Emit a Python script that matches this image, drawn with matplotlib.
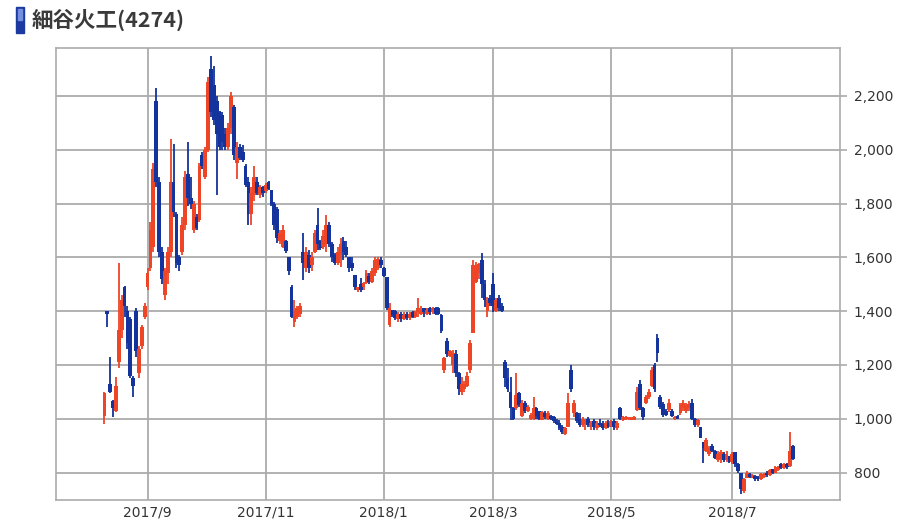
import numpy as np
import pandas as pd
import matplotlib
matplotlib.use('Agg')
import matplotlib.pyplot as plt
from matplotlib.patches import Rectangle
from matplotlib.ticker import FuncFormatter

plt.rcParams['font.family'] = ['Noto Sans CJK JP', 'DejaVu Sans']

# 取引日 (東証休場日を除く)
holidays = ['2017-08-11', '2017-09-18', '2017-10-09', '2017-11-03', '2017-11-23',
            '2018-01-01', '2018-01-02', '2018-01-03', '2018-01-08', '2018-02-12',
            '2018-03-21', '2018-04-30', '2018-05-03', '2018-05-04', '2018-07-16']

# 四本値 (月ごとに1行)
opens = [
    1010, 1400, 1130, 1065, 1030, 1210, 1330, 1490, 1400, 1370, 1150, 1400, 1170, 1270, 1380,
    1490, 1560, 1640, 2180, 1880, 1620, 1460, 1540, 1620, 1880, 1760, 1600, 1620, 1720, 1910, 1820, 1700, 1750, 1740, 1980,
    1900, 2000, 2300, 2240, 2180, 2140, 2130, 2060, 2010, 2080, 2160, 1950, 2010, 1990, 1940, 1880, 1760, 1830, 1880, 1830, 1862,
    1845, 1880, 1850, 1800, 1780, 1660, 1640, 1660, 1600, 1490, 1360, 1380, 1390, 1620, 1560, 1610, 1570, 1620, 1720, 1660,
    1640, 1650, 1720, 1650, 1610, 1580, 1610, 1660, 1640, 1600, 1580, 1534, 1478, 1500, 1490, 1505, 1530, 1510, 1540, 1560, 1590,
    1560, 1527, 1350, 1404, 1400, 1370, 1390, 1370, 1390, 1375, 1395, 1380, 1395, 1390, 1410, 1390, 1410, 1395, 1410,
    1410, 1385, 1180, 1290, 1235, 1200, 1240, 1170, 1100, 1110, 1120, 1180, 1320, 1510, 1540, 1590, 1500, 1400, 1450,
    1500, 1400, 1450, 1420, 1210, 1150, 1100, 1040, 1040, 1094, 1010, 1060, 1030, 1000, 1000, 1040, 1030, 995, 1020, 1000, 1010,
    1005, 990, 985, 970, 945, 970, 1180, 1020, 1020, 1000, 975, 980, 1000, 970, 990, 965, 985, 980, 965, 985,
    970, 990, 965, 1040, 995, 1000, 998, 996, 995, 1031, 1130, 1040, 1060, 1080, 1120, 1200, 1300, 1080, 1055, 1030, 1031,
    1030, 1000, 1010, 1020, 1040, 1030, 1040, 1060, 1000, 975, 968, 912, 880, 870, 900, 880, 845, 850, 870, 845, 860,
    840, 875, 830, 800, 730, 780, 795, 780, 789, 785, 775, 785, 800, 790, 812, 800, 810, 830, 818, 832, 825,
    900,
]
highs = [
    1100, 1400, 1230, 1070, 1155, 1580, 1460, 1495, 1420, 1380, 1160, 1410, 1270, 1350, 1430,
    1560, 1730, 1950, 2230, 1900, 1640, 1560, 1640, 2040, 2020, 1770, 1610, 1750, 1920, 2030, 1900, 1810, 1760, 1950, 1990,
    2010, 2270, 2350, 2310, 2200, 2145, 2140, 2080, 2100, 2215, 2165, 2030, 2020, 2019, 1945, 1900, 1860, 1940, 1900, 1870, 1865,
    1875, 1882, 1852, 1805, 1788, 1700, 1720, 1665, 1601, 1497, 1441, 1420, 1430, 1691, 1638, 1627, 1620, 1702, 1784, 1665,
    1700, 1758, 1730, 1657, 1616, 1640, 1672, 1676, 1660, 1601, 1600, 1534, 1490, 1523, 1510, 1553, 1540, 1560, 1601, 1601, 1600,
    1564, 1527, 1430, 1404, 1404, 1396, 1396, 1396, 1396, 1396, 1400, 1400, 1449, 1420, 1411, 1411, 1415, 1415, 1415,
    1415, 1390, 1229, 1300, 1255, 1255, 1255, 1173, 1154, 1140, 1173, 1292, 1590, 1583, 1580, 1616, 1516, 1453, 1460,
    1542, 1450, 1460, 1430, 1217, 1190, 1154, 1042, 1169, 1100, 1068, 1065, 1050, 1020, 1080, 1045, 1030, 1030, 1030, 1030, 1015,
    1010, 1000, 994, 975, 968, 1094, 1199, 1068, 1025, 1020, 1005, 1000, 1005, 990, 1000, 990, 1000, 990, 990, 995,
    995, 1000, 990, 1042, 1010, 1010, 1008, 1006, 1010, 1117, 1143, 1045, 1090, 1110, 1191, 1206, 1314, 1087, 1061, 1038, 1075,
    1038, 1012, 1015, 1060, 1068, 1060, 1065, 1075, 1001, 1000, 968, 915, 927, 900, 905, 882, 880, 882, 875, 880, 862,
    875, 878, 834, 800, 781, 807, 800, 795, 790, 789, 800, 800, 805, 815, 815, 826, 826, 834, 834, 834, 949,
    901,
]
lows = [
    980, 1340, 1095, 1005, 1025, 1190, 1300, 1380, 1260, 1150, 1080, 1230, 1150, 1260, 1370,
    1480, 1550, 1620, 1860, 1600, 1500, 1440, 1500, 1600, 1750, 1560, 1550, 1610, 1700, 1790, 1780, 1690, 1700, 1730, 1930,
    1890, 1990, 2120, 2090, 1830, 2000, 2000, 2000, 2000, 2060, 1960, 1890, 1960, 1955, 1860, 1720, 1720, 1810, 1830, 1820, 1825,
    1840, 1850, 1790, 1700, 1654, 1650, 1635, 1616, 1534, 1374, 1340, 1370, 1380, 1516, 1545, 1542, 1550, 1616, 1627, 1627,
    1630, 1620, 1640, 1583, 1571, 1570, 1564, 1590, 1600, 1545, 1550, 1478, 1471, 1471, 1480, 1500, 1500, 1504, 1530, 1553, 1560,
    1527, 1404, 1340, 1380, 1366, 1359, 1360, 1366, 1366, 1366, 1375, 1375, 1378, 1385, 1380, 1385, 1385, 1390, 1385,
    1385, 1318, 1169, 1229, 1230, 1169, 1154, 1087, 1087, 1100, 1117, 1169, 1318, 1504, 1520, 1449, 1415, 1378, 1420,
    1396, 1396, 1400, 1395, 1117, 1100, 994, 994, 1031, 1042, 1005, 1020, 1025, 994, 994, 1000, 994, 994, 1000, 995, 994,
    985, 975, 960, 945, 938, 968, 1098, 1005, 985, 968, 970, 957, 970, 960, 960, 960, 970, 960, 962, 965,
    968, 960, 960, 994, 990, 994, 994, 994, 994, 1030, 1031, 994, 1055, 1075, 1117, 1098, 1210, 1038, 1005, 1010, 1025,
    1005, 995, 998, 1015, 1030, 1020, 1030, 994, 968, 970, 927, 834, 875, 860, 875, 850, 840, 837, 840, 840, 837,
    830, 819, 800, 722, 725, 778, 780, 778, 770, 770, 772, 780, 785, 788, 795, 798, 805, 815, 815, 815, 819,
    845,
]
closes = [
    1095, 1390, 1100, 1040, 1120, 1330, 1440, 1420, 1280, 1160, 1120, 1250, 1260, 1340, 1420,
    1540, 1700, 1930, 1880, 1620, 1520, 1550, 1620, 1880, 1770, 1580, 1570, 1720, 1900, 1820, 1800, 1800, 1710, 1940, 1940,
    2000, 2250, 2140, 2110, 2060, 2010, 2030, 2010, 2080, 2200, 1980, 2010, 1970, 1960, 1870, 1760, 1840, 1900, 1840, 1860, 1840,
    1870, 1855, 1800, 1720, 1670, 1690, 1700, 1625, 1550, 1380, 1400, 1410, 1420, 1580, 1620, 1560, 1600, 1690, 1650, 1635,
    1680, 1720, 1650, 1600, 1580, 1620, 1650, 1620, 1610, 1560, 1560, 1490, 1488, 1480, 1505, 1540, 1510, 1550, 1590, 1595, 1570,
    1530, 1410, 1410, 1385, 1375, 1390, 1370, 1385, 1375, 1390, 1380, 1395, 1410, 1405, 1395, 1405, 1395, 1410, 1390,
    1390, 1325, 1225, 1240, 1250, 1245, 1170, 1110, 1130, 1130, 1160, 1280, 1570, 1570, 1575, 1500, 1440, 1440, 1430,
    1420, 1440, 1410, 1400, 1150, 1110, 1040, 1000, 1090, 1050, 1060, 1030, 1045, 1015, 1040, 1010, 1000, 1025, 1005, 1020, 1000,
    990, 980, 965, 950, 965, 1060, 1110, 1060, 990, 975, 1000, 995, 975, 985, 970, 985, 975, 965, 985, 970,
    990, 970, 985, 1000, 1005, 1005, 1004, 1003, 1005, 1100, 1040, 1005, 1080, 1100, 1180, 1110, 1243, 1045, 1015, 1015, 1060,
    1010, 1008, 1000, 1050, 1060, 1050, 1055, 1000, 975, 995, 930, 890, 920, 890, 880, 855, 870, 875, 845, 870, 840,
    870, 830, 805, 740, 775, 800, 785, 790, 775, 775, 795, 795, 790, 810, 800, 820, 822, 818, 830, 820, 880,
    850,
]

y_ticks = [800, 1000, 1200, 1400, 1600, 1800, 2000, 2200]
label_months = [(2017, 9), (2017, 11), (2018, 1), (2018, 3), (2018, 5), (2018, 7)]

dates = pd.bdate_range('2017-08-10', '2018-08-01')
dates = dates[~dates.isin(pd.to_datetime(holidays))]

o = np.array(opens)
h = np.array(highs)
l = np.array(lows)
c = np.array(closes)
idx = np.arange(len(dates))

RED = '#ee4527'
BLUE = '#14339c'
GRID = '#ababab'
colors = np.where(c >= o, RED, BLUE)

fig = plt.figure(figsize=(9, 5.21), dpi=100)
ax = fig.add_axes([56 / 900, 1 - 500 / 521, 784 / 900, 452 / 521])

# ヒゲと実体
ax.vlines(idx, l, h, colors=colors, linewidth=1.3, zorder=3)
body = np.maximum(np.abs(c - o), 5)
ax.bar(idx, body, bottom=np.minimum(o, c), width=1.3, color=colors, linewidth=0, zorder=4)

ax.set_xlim(-16.8, 255.4)
ax.set_ylim(698, 2378)

tick_pos = []
tick_lab = []
for yr, mo in label_months:
    i = np.where((dates.year == yr) & (dates.month == mo))[0][0]
    tick_pos.append(i)
    tick_lab.append('%d/%d' % (yr, mo))
ax.set_xticks(tick_pos)
ax.set_xticklabels(tick_lab, family='DejaVu Sans', fontsize=10, color='#333333')
ax.set_yticks(y_ticks)
ax.yaxis.set_major_formatter(FuncFormatter(lambda v, p: '{:,}'.format(int(v))))
ax.yaxis.tick_right()
for t in ax.get_yticklabels():
    t.set_family('DejaVu Sans')
ax.tick_params(axis='y', length=5, width=1.2, color=GRID, labelsize=10, labelcolor='#333333', pad=5)
ax.tick_params(axis='x', length=0, pad=4)
ax.grid(True, color=GRID, linewidth=1.3, zorder=0)
ax.set_axisbelow(True)
for s in ax.spines.values():
    s.set_color(GRID)
    s.set_linewidth(1.2)

# タイトル
fig.add_artist(Rectangle((16 / 900, 1 - 33 / 521), 8 / 900, 26 / 521,
                         transform=fig.transFigure, color='#1c3aa0'))
fig.add_artist(Rectangle((18 / 900, 1 - 20 / 521), 4 / 900, 11 / 521,
                         transform=fig.transFigure, color='#7490de'))
fig.text(32 / 900, 1 - 20 / 521, '細谷火工(4274)', fontsize=15.5, fontweight='bold',
         va='center', ha='left', color='#3a3a3a')

fig.savefig('out.png', dpi=100, facecolor='white')
